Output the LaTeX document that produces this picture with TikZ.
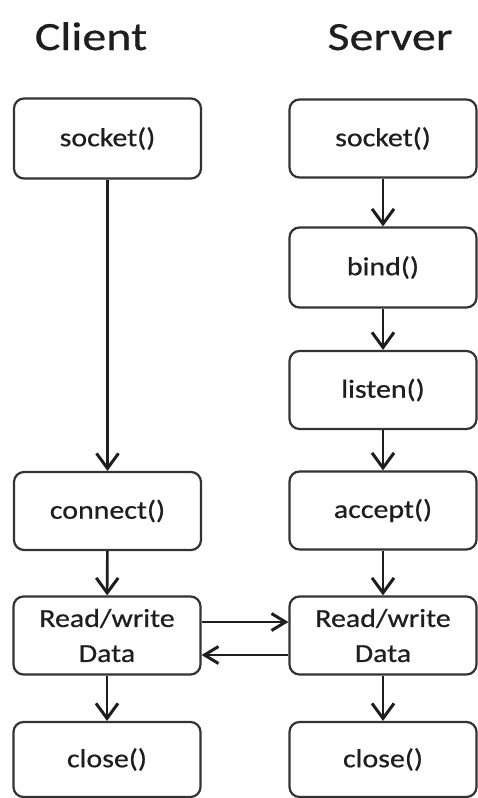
\documentclass[tikz,border=0pt]{standalone}
\usepackage{fontspec}
\setmainfont{Carlito}[FakeStretch=1.15,FakeBold=0.6]
\newfontfamily\titlefont{Carlito}[FakeStretch=1.2,FakeBold=0.6]
\usetikzlibrary{arrows.meta}
\definecolor{linegray}{HTML}{333333}
\definecolor{textdark}{HTML}{1E1E1E}
\tikzset{
  box/.style={draw=linegray, line width=2.2pt, rounded corners=10pt, minimum width=187pt,
    minimum height=78pt, inner sep=0pt, font=\fontsize{26}{35}\selectfont, text=textdark,
    align=center, fill=white},
  flow/.style={draw=textdark, line width=2.6pt,
    -{Straight Barb[length=15pt,width=22pt,line width=3pt]}},
  hflow/.style={draw=textdark, line width=2.6pt,
    -{Straight Barb[length=14pt,width=17pt,line width=3pt]}},
  title/.style={font=\titlefont\fontsize{40}{48}\selectfont, text=textdark, anchor=base}
}
\begin{document}
\begin{tikzpicture}[x=1pt,y=-1pt]
\useasboundingbox (0,0) rectangle (477,798);
\node[title] (tc) at (91,50) {Client};
\node[title] (ts) at (390,50) {Server};
% client column
\node[box, minimum height=80pt] (cs) at (107.5,138.5) {socket()};
\node[box] (cc) at (107.5,511) {connect()};
\node[box] (crw) at (107,635.5) {Read/write\\Data};
\node[box, minimum height=75pt] (ccl) at (107,759.5) {close()};
% server column
\node[box] (ss) at (383,138.5) {socket()};
\node[box, minimum height=80pt] (sb) at (383,267.5) {bind()};
\node[box] (sl) at (383,390) {listen()};
\node[box] (sa) at (383,510.5) {accept()};
\node[box] (srw) at (383,635.5) {Read/write\\Data};
\node[box, minimum height=75pt] (scl) at (383,759.5) {close()};
% arrows
\draw[flow] (cs) -- (cc);
\draw[flow] (cc) -- (crw);
\draw[flow] (crw) -- (ccl);
\draw[flow] (ss) -- (sb);
\draw[flow] (sb) -- (sl);
\draw[flow] (sl) -- (sa);
\draw[flow] (sa) -- (srw);
\draw[flow] (srw) -- (scl);
\draw[hflow] ([yshift=13.5pt]crw.east) -- ([yshift=13.5pt]srw.west);
\draw[hflow] ([yshift=-19.5pt]srw.west) -- ([yshift=-19.5pt]crw.east);
\end{tikzpicture}
\end{document}
